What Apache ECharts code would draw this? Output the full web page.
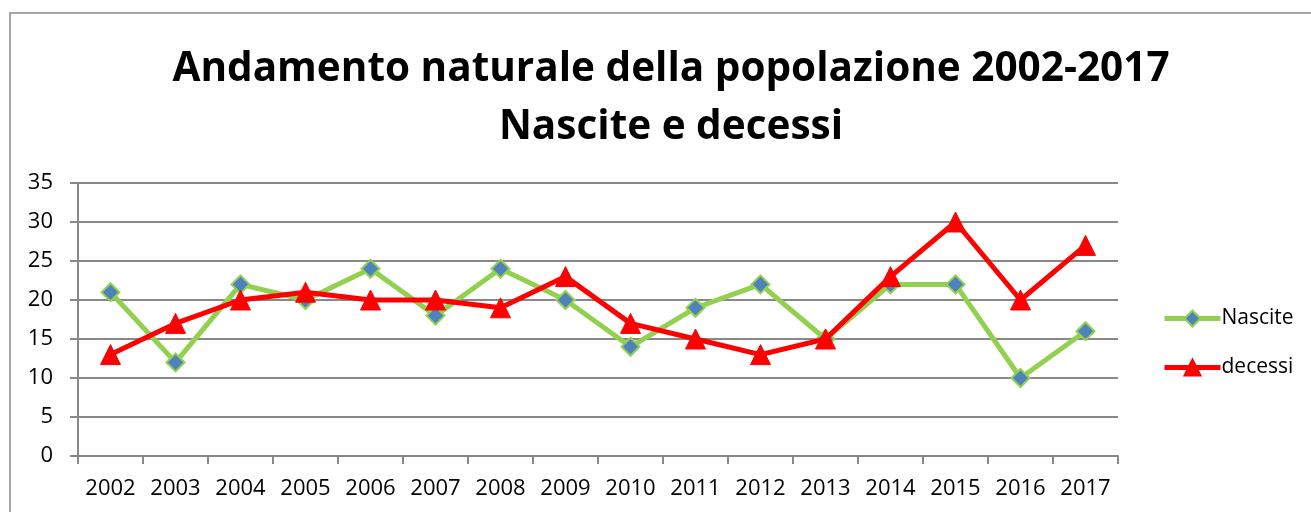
<!DOCTYPE html>
<html>
<head>
<meta charset="utf-8">
<script src="https://cdn.jsdelivr.net/npm/echarts@6/dist/echarts.min.js"></script>
<style>
  html, body { margin: 0; padding: 0; background: #fff; overflow: hidden; }
  #frame { position: absolute; left: 9px; top: 12px; width: 1400px; height: 600px; border: 2px solid #a6a6a6; box-sizing: border-box; }
  #chart { position: absolute; left: 0; top: 0; width: 1311px; height: 512px; }
</style>
</head>
<body>
<div id="frame"></div>
<div id="chart"></div>
<script>
const years = ['2002', '2003', '2004', '2005', '2006', '2007', '2008', '2009', '2010', '2011', '2012', '2013', '2014', '2015', '2016', '2017'];
const nascite = [21, 12, 22, 20, 24, 18, 24, 20, 14, 19, 22, 15, 22, 22, 10, 16];
const decessi = [13, 17, 20, 21, 20, 20, 19, 23, 17, 15, 13, 15, 23, 30, 20, 27];

const chart = echarts.init(document.getElementById('chart'));
chart.setOption({
    animation: false,
    title: {
        text: 'Andamento naturale della popolazione 2002-2017\nNascite e decessi',
        left: 666,
        textAlign: 'center',
        top: 35,
        textStyle: {
            fontFamily: 'Open Sans',
            fontWeight: 'bold',
            fontSize: 40.5,
            lineHeight: 58,
            color: '#000'
        }
    },
    legend: {
        orient: 'vertical',
        left: 1157,
        top: 303,
        itemWidth: 56,
        itemHeight: 20,
        itemGap: 28,
        lineStyle: { width: 5 },
        textStyle: { fontFamily: 'Open Sans', fontSize: 21, color: '#000', padding: [0, 0, 0, -4] },
        data: ['Nascite', 'decessi']
    },
    grid: {
        left: 78,
        right: 193,
        top: 183,
        bottom: 56
    },
    xAxis: {
        type: 'category',
        data: years,
        boundaryGap: true,
        axisLine: { lineStyle: { color: '#888', width: 2 } },
        axisTick: { show: true, interval: 0, length: 8, lineStyle: { color: '#888', width: 2 } },
        axisLabel: { interval: 0, fontFamily: 'Open Sans', fontSize: 22, color: '#000', margin: 22 }
    },
    yAxis: {
        type: 'value',
        min: 0,
        max: 35,
        interval: 5,
        axisLine: { show: true, lineStyle: { color: '#888', width: 2 } },
        axisTick: { show: true, length: 8, lineStyle: { color: '#888', width: 2 } },
        axisLabel: { fontFamily: 'Open Sans', fontSize: 22, color: '#000', margin: 25 },
        splitLine: { lineStyle: { color: '#888', width: 2 } }
    },
    series: [
        {
            name: 'Nascite',
            type: 'line',
            data: nascite,
            symbol: 'diamond',
            symbolSize: 18,
            lineStyle: { color: '#92d050', width: 5 },
            itemStyle: { color: '#4f81bd', borderColor: '#92d050', borderWidth: 2 },
            z: 2
        },
        {
            name: 'decessi',
            type: 'line',
            data: decessi,
            symbol: 'triangle',
            symbolSize: 20,
            lineStyle: { color: '#ff0000', width: 5 },
            itemStyle: { color: '#ff0000', borderColor: '#ff0000', borderWidth: 1 },
            z: 3
        }
    ]
});
</script>
</body>
</html>
